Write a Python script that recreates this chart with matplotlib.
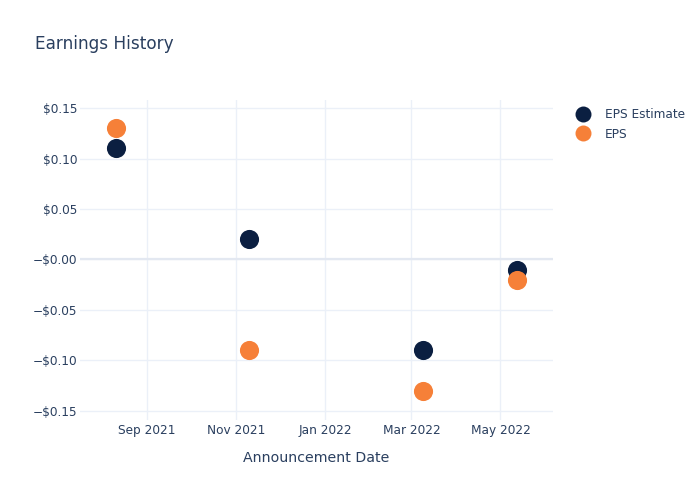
import matplotlib
matplotlib.use("Agg")
import matplotlib.pyplot as plt
from matplotlib.lines import Line2D
import datetime as dt

dates = ["2021-08-11", "2021-11-10", "2022-03-09", "2022-05-12"]
eps_estimate = [0.11, 0.02, -0.09, -0.01]
eps_actual = [0.13, -0.09, -0.13, -0.02]
y_ticks = [0.15, 0.10, 0.05, 0.0, -0.05, -0.10, -0.15]
y_labels = ["$0.15", "$0.10", "$0.05", "\u2212$0.00", "\u2212$0.05", "\u2212$0.10", "\u2212$0.15"]
x_ticks = ["2021-09-01", "2021-11-01", "2022-01-01", "2022-03-01", "2022-05-01"]
x_labels = ["Sep 2021", "Nov 2021", "Jan 2022", "Mar 2022", "May 2022"]

TEXT = "#2a3f5f"
GRID = "#ebf0f8"
NAVY = "#0b1f41"
ORANGE = "#f68038"

plt.rcParams['font.family'] = ['DejaVu Sans']

fig = plt.figure(figsize=(7, 5), dpi=100)
ax = fig.add_axes([80/700, 1-420/500, 473/700, 320/500])

xd = [dt.datetime.fromisoformat(d) for d in dates]
ax.scatter(xd, eps_estimate, s=190, color=NAVY, zorder=3, linewidths=0)
ax.scatter(xd, eps_actual, s=190, color=ORANGE, zorder=4, linewidths=0)

ax.set_xlim(dt.datetime(2021, 7, 17), dt.datetime(2022, 6, 6))
ax.set_ylim(-0.159, 0.158)

ax.set_yticks(y_ticks)
ax.set_yticklabels(y_labels)
ax.set_xticks([dt.datetime.fromisoformat(d) for d in x_ticks])
ax.set_xticklabels(x_labels)

ax.grid(True, color=GRID, linewidth=1, zorder=0)
ax.axhline(0, color="#e3e8f1", linewidth=1.6, zorder=1)
for s in ax.spines.values():
    s.set_visible(False)
ax.tick_params(axis="y", length=0, colors=TEXT, labelsize=8.7, pad=2)
ax.tick_params(axis="x", length=0, colors=TEXT, labelsize=8.7, pad=3)
ax.set_axisbelow(True)

ax.set_xlabel("Announcement Date", color=TEXT, fontsize=10.2, labelpad=10)
fig.text(35/700, 1-44/500, "Earnings History", color=TEXT, fontsize=12.2, va="center", ha="left")

handles = [
    Line2D([], [], marker="o", linestyle="none", markersize=11.5, color=NAVY, markeredgewidth=0),
    Line2D([], [], marker="o", linestyle="none", markersize=11.5, color=ORANGE, markeredgewidth=0),
]
leg = fig.legend(handles, ["EPS Estimate", "EPS"], loc="upper left",
                 bbox_to_anchor=(576/700, 1-108/500), frameon=False,
                 fontsize=8.7, labelcolor=TEXT, handletextpad=1.2,
                 labelspacing=0.55, borderaxespad=0, borderpad=0, handlelength=1.2)

fig.savefig("out.png", dpi=100)
